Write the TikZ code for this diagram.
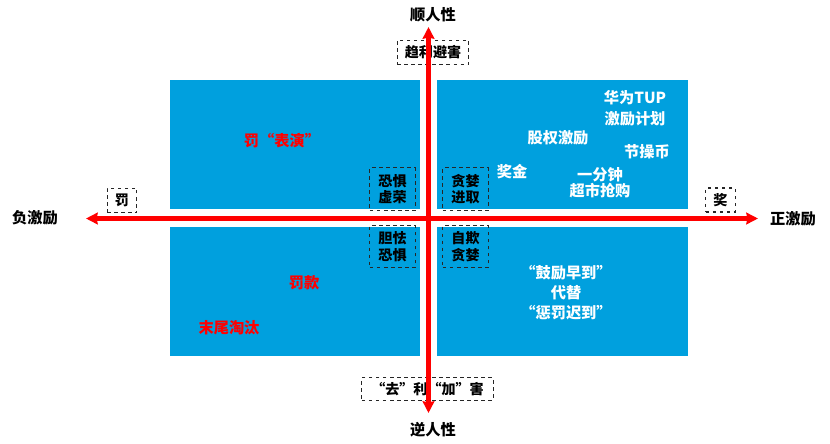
\documentclass[tikz,border=0pt]{standalone}
\usepackage{fontspec}
\setmainfont{Noto Sans CJK SC}
\usetikzlibrary{arrows.meta}
\definecolor{quadblue}{RGB}{0,160,222}
\definecolor{axisred}{RGB}{255,0,0}
\tikzset{
  quad/.style={fill=quadblue},
  axis/.style={draw=axisred, line width=3.8pt,
    {Stealth[length=10pt,width=10pt,inset=1pt]}-{Stealth[length=10pt,width=10pt,inset=1pt]}},
  tagbox/.style={draw=black!85, dashed, line width=0.9pt, inner sep=0pt,
    align=center, font=\fontsize{12}{14}\selectfont\bfseries},
  axislabel/.style={font=\fontsize{13}{15}\selectfont\bfseries},
  redtext/.style={text=axisred, font=\fontsize{13}{15}\selectfont\bfseries},
  whitetext/.style={text=white, align=center, font=\fontsize{13}{15}\selectfont\bfseries}
}

\begin{document}
\begin{tikzpicture}[x=0.03cm, y=-0.03cm]
    \useasboundingbox (0,0) rectangle (830,444);
    % quadrants
    \fill[quad] (170,80) rectangle (420,209);
    \fill[quad] (437,80) rectangle (688,209);
    \fill[quad] (170,227) rectangle (420,356);
    \fill[quad] (437,227) rectangle (688,356);
    % axis ends
    \coordinate (west) at (86,218.5);
    \coordinate (east) at (758,218.5);
    \coordinate (north) at (428.5,27);
    \coordinate (south) at (428.5,413);
    % axis labels
    \node[axislabel] (up) at (433,15) {顺人性};
    \node[axislabel] (down) at (433,430) {逆人性};
    \node[axislabel] (neg) at (35,218) {负激励};
    \node[axislabel] (pos) at (793,219) {正激励};
    % dashed tags
    \node[tagbox, minimum width=61pt, minimum height=21pt] (seek) at (433,52.5) {趋利避害};
    \node[tagbox, minimum width=25.5pt, minimum height=21pt] (fine) at (122,200.5) {罚};
    \node[tagbox, minimum width=25pt, minimum height=20.5pt] (prize) at (720.5,200) {奖};
    \node[tagbox, minimum width=112pt, minimum height=19pt] (against) at (427.5,389) {“去”利“加”害};
    \node[tagbox, minimum width=38.5pt, minimum height=36pt] (fearvain) at (392.5,189) {恐惧\\虚荣};
    \node[tagbox, minimum width=38.5pt, minimum height=36pt] (greedgo) at (465.5,189) {贪婪\\进取};
    \node[tagbox, minimum width=38.5pt, minimum height=36pt] (timid) at (392.5,246.5) {胆怯\\恐惧};
    \node[tagbox, minimum width=38.5pt, minimum height=36pt] (selfcheat) at (465.5,246.5) {自欺\\贪婪};
    % quadrant texts
    \node[redtext] (show) at (282,141) {罚“表演”};
    \node[redtext] (penalty) at (304,283) {罚款};
    \node[redtext] (tail) at (229,328) {末尾淘汰};
    \node[whitetext, font=\fontsize{13}{18}\selectfont\bfseries] (tup) at (635,108) {华为TUP\\激励计划};
    \node[whitetext] (equity) at (558,138) {股权激励};
    \node[whitetext] (coin) at (647,152) {节操币};
    \node[whitetext] (bonus) at (512,172) {奖金};
    \node[whitetext, font=\fontsize{13}{14}\selectfont\bfseries] (rush) at (600,183) {一分钟\\超市抢购};
    \node[whitetext, font=\fontsize{13}{17}\selectfont\bfseries] (early) at (566,293) {“鼓励早到”\\代替\\“惩罚迟到”};
    % axes
    \draw[axis] (east) -- (west);
    \draw[axis] (south) -- (north);
\end{tikzpicture}
\end{document}
